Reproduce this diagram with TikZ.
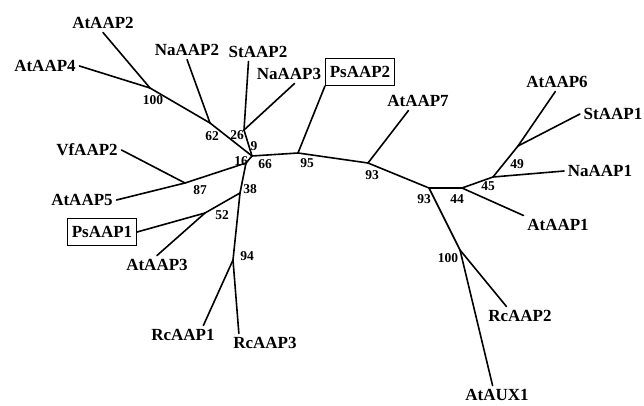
\documentclass[tikz,border=0pt]{standalone}
\usepackage{fontspec}
\setmainfont{Liberation Serif}
\usetikzlibrary{arrows}
\usetikzlibrary{shapes}

\begin{document}
\begin{tikzpicture}[x=1pt, y=-1pt, line cap=round]
    \tikzstyle{taxon} = [font=\fontsize{17}{17}\selectfont\bfseries, inner sep=3pt]
    \tikzstyle{boxed} = [taxon, draw, line width=0.7pt, inner xsep=4.5pt,
	inner ysep=8pt]
    \tikzstyle{boot} = [font=\fontsize{13.5}{13.5}\selectfont\bfseries, inner sep=0pt]
    \tikzstyle{branch} = [line width=1.6pt]

	\useasboundingbox (0,0) rectangle (644,406);

	\begin{scope}
		\path[branch]
			node[taxon] (AtAAP2) at (103,23) {AtAAP2}
			node[taxon] (AtAAP4) at (45,66) {AtAAP4}
			node[taxon] (NaAAP2) at (187,50) {NaAAP2}
			node[taxon] (StAAP2) at (258,52) {StAAP2}
			node[taxon] (NaAAP3) at (289,74) {NaAAP3}
			node[boxed] (PsAAP2) at (360,72) {PsAAP2}
			node[taxon] (AtAAP7) at (418,101) {AtAAP7}
			node[taxon] (AtAAP6) at (557,82) {AtAAP6}
			node[taxon] (StAAP1) at (613,114) {StAAP1}
			node[taxon] (NaAAP1) at (600,171) {NaAAP1}
			node[taxon] (AtAAP1) at (558,225) {AtAAP1}
			node[taxon] (RcAAP2) at (520,316) {RcAAP2}
			node[taxon] (AtAUX1) at (497,395) {AtAUX1}
			node[taxon] (VfAAP2) at (87,150) {VfAAP2}
			node[taxon] (AtAAP5) at (82,200) {AtAAP5}
			node[boxed] (PsAAP1) at (102,232) {PsAAP1}
			node[taxon] (AtAAP3) at (157,265) {AtAAP3}
			node[taxon] (RcAAP1) at (183,335) {RcAAP1}
			node[taxon] (RcAAP3) at (265,343) {RcAAP3}

			% inner nodes
			(150,88) coordinate (n100)
			(210,123) coordinate (n62)
			(244,130) coordinate (n26)
			(252,156) coordinate (n9)
			(246,163) coordinate (n16)
			(185,183) coordinate (n87)
			(240,193) coordinate (n38)
			(205,213) coordinate (n52)
			(233,260) coordinate (n94)
			(298,153) coordinate (n95)
			(368,163) coordinate (n93)
			(429,188) coordinate (m93)
			(462,188) coordinate (n44)
			(493,177) coordinate (n45)
			(518,146) coordinate (n49)
			(460,250) coordinate (m100)

			(AtAAP2.south) edge (n100)
			(AtAAP4.east) edge (n100)
			(n100) edge (n62)
			(NaAAP2.south) edge (n62)
			(n62) edge (n9)
			(StAAP2.225) edge (n26)
			(NaAAP3.300) edge (n26)
			(n26) edge (n9)

			(n9) edge (n16)
			(n16) edge (n87)
			(VfAAP2.east) edge (n87)
			(AtAAP5.east) edge (n87)
			(n16) edge (n38)
			(n38) edge (n52)
			(PsAAP1.east) edge (n52)
			(AtAAP3.north) edge (n52)
			(n38) edge (n94)
			(n94) edge (RcAAP1.25)
			(n94) edge (RcAAP3.160)

			(n9) edge (n95)
			(n95) edge (PsAAP2.south west)
			(n95) edge (n93)
			(n93) edge (AtAAP7.225)
			(n93) edge (m93)
			(m93) edge (n44)
			(n44) edge (n45)
			(n45) edge (NaAAP1.west)
			(n45) edge (n49)
			(n49) edge (AtAAP6.260)
			(n49) edge (StAAP1.west)
			(n44) edge (AtAAP1.north west)
			(m93) edge (m100)
			(m100) edge (RcAAP2.145)
			(m100) edge (AtAUX1.115)
		;

		% bootstrap values
		\node[boot] at (153,100) {100};
		\node[boot] at (212,136) {62};
		\node[boot] at (237,135) {26};
		\node[boot] at (254,146) {9};
		\node[boot] at (241,161) {16};
		\node[boot] at (265,164) {66};
		\node[boot] at (307,163) {95};
		\node[boot] at (200,190) {87};
		\node[boot] at (250,189) {38};
		\node[boot] at (222,215) {52};
		\node[boot] at (247,256) {94};
		\node[boot] at (372,175) {93};
		\node[boot] at (424,199) {93};
		\node[boot] at (457,199) {44};
		\node[boot] at (488,186) {45};
		\node[boot] at (517,164) {49};
		\node[boot] at (448,258) {100};
	\end{scope}
\end{tikzpicture}
\end{document}
